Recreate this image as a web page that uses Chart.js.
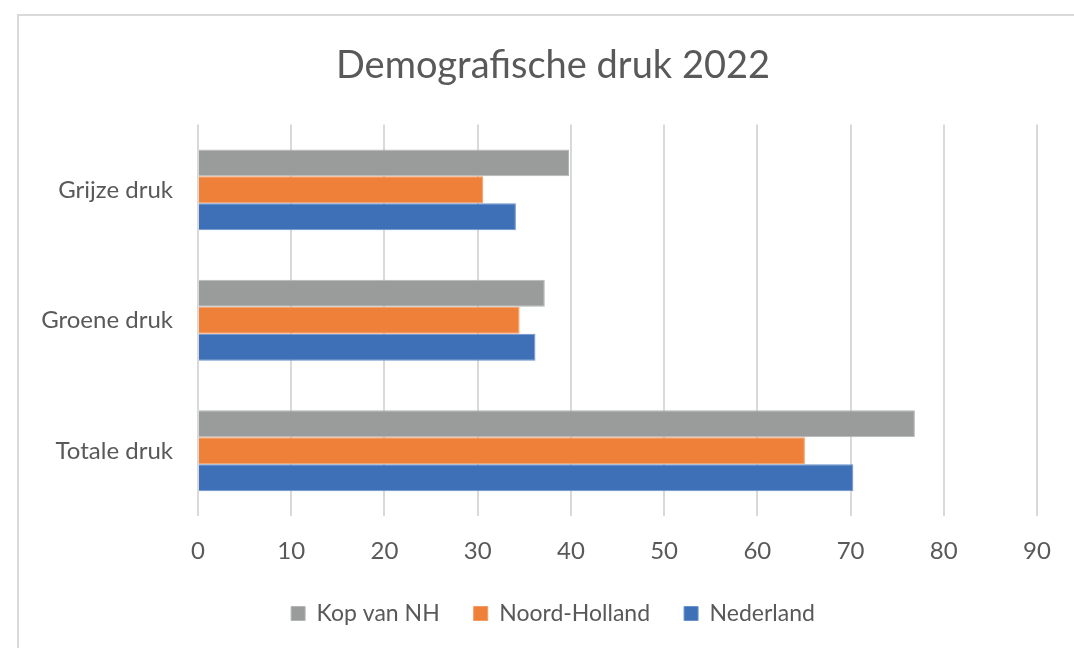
<!DOCTYPE html>
<html>
<head>
<meta charset="utf-8">
<script src="https://cdn.jsdelivr.net/npm/chart.js@4"></script>
<style>
  html, body { margin: 0; padding: 0; background: #fff; overflow: hidden; }
  #frame { position: absolute; left: 17px; top: 14px; width: 1200px; height: 800px;
           border-top: 2px solid #d9d9d9; border-left: 2px solid #d9d9d9; }
  #wrap { position: absolute; left: 0; top: 0; width: 1074px; height: 648px; }
</style>
</head>
<body>
<div id="frame"></div>
<div id="wrap"><canvas id="myChart"></canvas></div>
<script>
// categorieen en waarden
var categorieen = ['Grijze druk', 'Groene druk', 'Totale druk'];
var kopVanNH = [39.8, 37.2, 76.9];
var noordHolland = [30.6, 34.5, 65.1];
var nederland = [34.1, 36.2, 70.3];
var xTicks = [0, 10, 20, 30, 40, 50, 60, 70, 80, 90];

var tekstKleur = '#595959';
var lettertype = 'Lato';

// y-as labels mogen links buiten de padding vallen (anders wordt de G afgeknipt)
var yLabelsVrij = {
    id: 'yLabelsVrij',
    afterLayout: function (chart) {
        chart.scales.y.left = 0;
    }
};

var ctx = document.getElementById('myChart').getContext('2d');
var myChart = new Chart(ctx, {
    type: 'bar',
    data: {
        labels: categorieen,
        datasets: [{
            label: 'Kop van NH',
            data: kopVanNH,
            backgroundColor: '#9a9c9b',
            borderColor: '#b4b6b5',
            borderWidth: 1
        }, {
            label: 'Noord-Holland',
            data: noordHolland,
            backgroundColor: '#ef8039',
            borderColor: '#f49a5e',
            borderWidth: 1
        }, {
            label: 'Nederland',
            data: nederland,
            backgroundColor: '#3e70b8',
            borderColor: '#6a92cc',
            borderWidth: 1
        }]
    },
    plugins: [yLabelsVrij],
    options: {
        indexAxis: 'y',
        responsive: true,
        maintainAspectRatio: false,
        animation: false,
        categoryPercentage: 0.62,
        barPercentage: 1.0,
        layout: {
            padding: { left: 69, right: 37, top: 0, bottom: 13 }
        },
        plugins: {
            title: {
                display: true,
                text: 'Demografische druk 2022',
                color: tekstKleur,
                font: { family: lettertype, size: 38, weight: 'normal' },
                padding: { top: 43, bottom: 36 }
            },
            legend: {
                position: 'bottom',
                labels: {
                    color: tekstKleur,
                    font: { family: lettertype, size: 23 },
                    boxWidth: 14,
                    boxHeight: 14,
                    padding: 34
                }
            },
            tooltip: { enabled: false }
        },
        scales: {
            x: {
                min: 0,
                max: 90,
                afterBuildTicks: function (scale) {
                    scale.ticks = xTicks.map(function (v) { return { value: v }; });
                },
                afterFit: function (scale) { scale.height = 52; },
                grid: { color: '#d9d9d9', lineWidth: 2, drawTicks: false },
                border: { display: false },
                ticks: {
                    color: tekstKleur,
                    font: { family: lettertype, size: 24 },
                    padding: 21
                }
            },
            y: {
                afterFit: function (scale) { scale.width = 129; },
                grid: { display: false, drawTicks: false },
                border: { display: false },
                ticks: {
                    color: tekstKleur,
                    font: { family: lettertype, size: 24 },
                    padding: 25
                }
            }
        }
    }
});
</script>
</body>
</html>
